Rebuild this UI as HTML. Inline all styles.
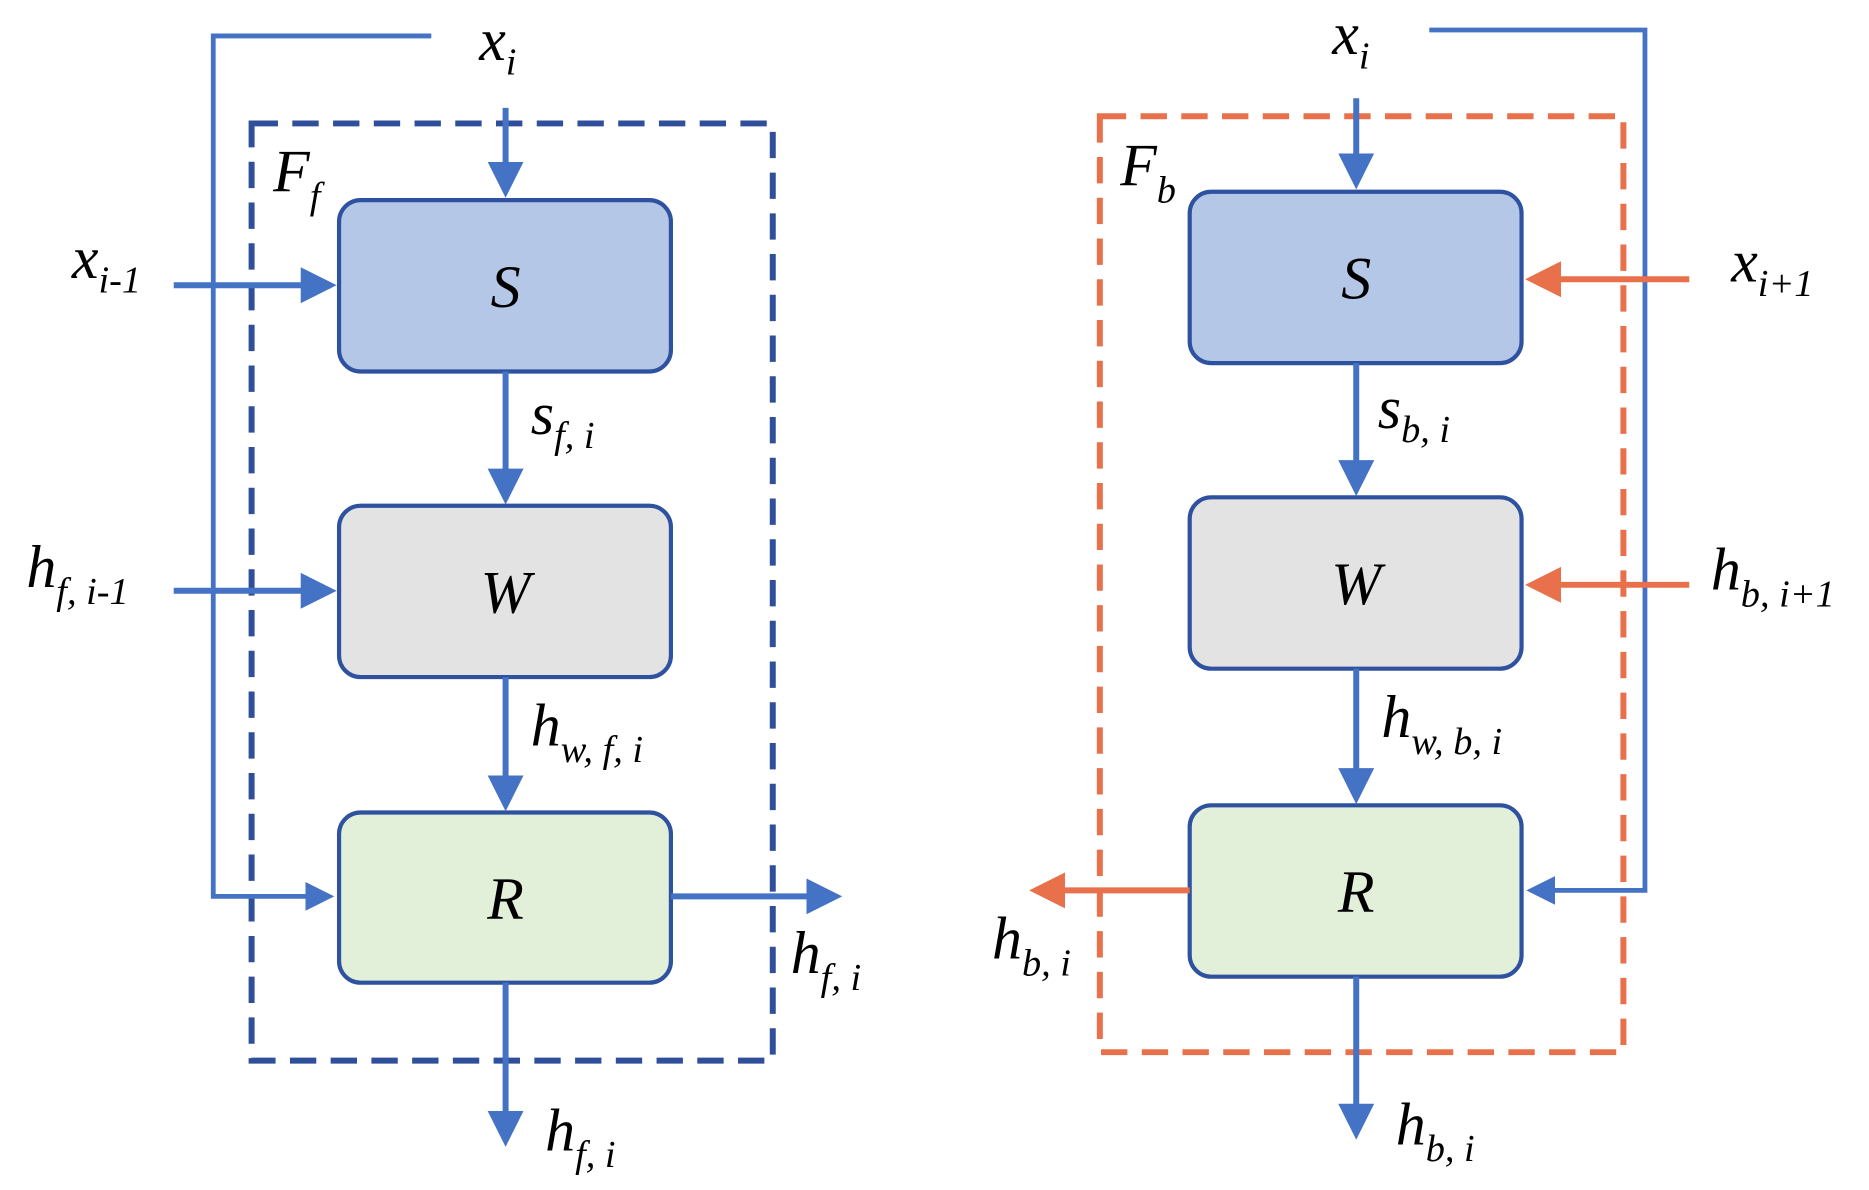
<!DOCTYPE html>
<html><head><meta charset="utf-8"><style>
html,body{margin:0;padding:0;background:#fff;}
svg{display:block;}
text{font-family:"Liberation Serif",serif;font-style:italic;fill:#000;}
.m{font-size:50px}
.s{font-size:32px}
</style></head><body>
<svg width="1869" height="1190" viewBox="0 0 1560 993" preserveAspectRatio="none" xmlns="http://www.w3.org/2000/svg">
<defs>
<marker id="ab" markerWidth="6" markerHeight="6" refX="5" refY="3" orient="auto" markerUnits="strokeWidth"><path d="M0,0 L6,3 L0,6 Z" fill="#4472c4"/></marker>
<marker id="ao" markerWidth="6" markerHeight="6" refX="5" refY="3" orient="auto" markerUnits="strokeWidth"><path d="M0,0 L6,3 L0,6 Z" fill="#e8704a"/></marker>
</defs>
<!-- dashed boxes -->
<rect x="210" y="103" width="435" height="782" fill="none" stroke="#2f4f9a" stroke-width="5" stroke-dasharray="22 12"/>
<rect x="918" y="97" width="437" height="781" fill="none" stroke="#e8704a" stroke-width="5" stroke-dasharray="22 12"/>
<!-- left boxes -->
<rect x="283" y="167" width="277" height="143" rx="18" fill="#b4c7e7" stroke="#2f52a0" stroke-width="3.5"/>
<rect x="283" y="422" width="277" height="143" rx="18" fill="#e3e3e3" stroke="#2f52a0" stroke-width="3.5"/>
<rect x="283" y="678" width="277" height="142" rx="18" fill="#e2efd9" stroke="#2f52a0" stroke-width="3.5"/>
<!-- right boxes -->
<rect x="993" y="160" width="277" height="143" rx="18" fill="#b4c7e7" stroke="#2f52a0" stroke-width="3.5"/>
<rect x="993" y="415" width="277" height="143" rx="18" fill="#e3e3e3" stroke="#2f52a0" stroke-width="3.5"/>
<rect x="993" y="672" width="277" height="143" rx="18" fill="#e2efd9" stroke="#2f52a0" stroke-width="3.5"/>
<g stroke="#4472c4" stroke-width="5" fill="none">
<line x1="422" y1="90" x2="422" y2="160" marker-end="url(#ab)"/>
<polyline points="360,30 178,30 178,748 275,748" marker-end="url(#ab)" stroke-width="4"/>
<line x1="145" y1="238" x2="276" y2="238" marker-end="url(#ab)"/>
<line x1="145" y1="493" x2="276" y2="493" marker-end="url(#ab)"/>
<line x1="422" y1="310" x2="422" y2="416" marker-end="url(#ab)"/>
<line x1="422" y1="565" x2="422" y2="672" marker-end="url(#ab)"/>
<line x1="560" y1="748" x2="698" y2="748" marker-end="url(#ab)"/>
<line x1="422" y1="820" x2="422" y2="952" marker-end="url(#ab)"/>
<line x1="1132" y1="82" x2="1132" y2="153" marker-end="url(#ab)"/>
<polyline points="1193,25 1373,25 1373,743 1278,743" marker-end="url(#ab)" stroke-width="4"/>
<line x1="1132" y1="303" x2="1132" y2="409" marker-end="url(#ab)"/>
<line x1="1132" y1="558" x2="1132" y2="666" marker-end="url(#ab)"/>
<line x1="1132" y1="815" x2="1132" y2="946" marker-end="url(#ab)"/>
</g>
<g stroke="#e8704a" stroke-width="5" fill="none">
<line x1="1410" y1="233" x2="1278" y2="233" marker-end="url(#ao)"/>
<line x1="1410" y1="488" x2="1278" y2="488" marker-end="url(#ao)"/>
<line x1="993" y1="743" x2="864" y2="743" marker-end="url(#ao)"/>
</g>
<!-- box letters -->
<text class="m" x="422" y="256" text-anchor="middle">S</text>
<text class="m" x="422" y="511" text-anchor="middle">W</text>
<text class="m" x="422" y="767" text-anchor="middle">R</text>
<text class="m" x="1132" y="249" text-anchor="middle">S</text>
<text class="m" x="1132" y="504" text-anchor="middle">W</text>
<text class="m" x="1132" y="761" text-anchor="middle">R</text>
<!-- labels -->
<text class="m" x="400" y="50">x<tspan class="s" dy="12">i</tspan></text>
<text class="m" x="228" y="160">F<tspan class="s" dy="14">f</tspan></text>
<text class="m" x="60" y="232">x<tspan class="s" dy="12">i-1</tspan></text>
<text class="m" x="22" y="490">h<tspan class="s" dy="14">f, i-1</tspan></text>
<text class="m" x="443" y="362">s<tspan class="s" dy="12">f, i</tspan></text>
<text class="m" x="443" y="622">h<tspan class="s" dy="14">w, f, i</tspan></text>
<text class="m" x="660" y="812">h<tspan class="s" dy="14">f, i</tspan></text>
<text class="m" x="455" y="960">h<tspan class="s" dy="14">f, i</tspan></text>
<text class="m" x="1112" y="45">x<tspan class="s" dy="12">i</tspan></text>
<text class="m" x="935" y="155">F<tspan class="s" dy="14">b</tspan></text>
<text class="m" x="1445" y="235">x<tspan class="s" dy="12">i+1</tspan></text>
<text class="m" x="1428" y="492">h<tspan class="s" dy="14">b, i+1</tspan></text>
<text class="m" x="1150" y="357">s<tspan class="s" dy="12">b, i</tspan></text>
<text class="m" x="1153" y="615">h<tspan class="s" dy="14">w, b, i</tspan></text>
<text class="m" x="828" y="800">h<tspan class="s" dy="14">b, i</tspan></text>
<text class="m" x="1165" y="955">h<tspan class="s" dy="14">b, i</tspan></text>
</svg>
</body></html>
